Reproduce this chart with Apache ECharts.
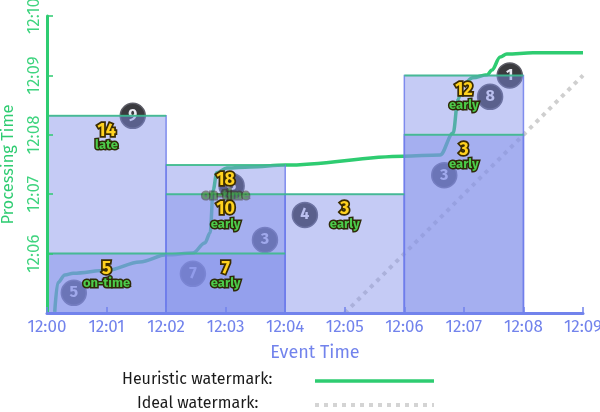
<!DOCTYPE html>
<html>
<head>
<meta charset="utf-8">
<script src="https://cdn.jsdelivr.net/npm/echarts@6/dist/echarts.min.js"></script>
<style>
  html, body { margin: 0; padding: 0; background: #fff; }
  #chart { width: 600px; height: 412px; }
</style>
</head>
<body>
<div id="chart"></div>
<script>
// times are minutes after 12:00
const eventTimeLabels = ['12:00', '12:01', '12:02', '12:03', '12:04', '12:05', '12:06', '12:07', '12:08', '12:09']
const processingTimeLabels = ['12:05', '12:06', '12:07', '12:08', '12:09', '12:10']

// fixed 2 minute windows
const windowStarts = [0, 2, 4, 6]
const windowSize = 2

// one pane per trigger firing
const paneWindow = [0, 0, 1, 1, 1, 2, 3, 3]
const paneTop = [6.0, 8.32, 6.0, 7.0, 7.49, 7.0, 8.0, 9.0]
const paneSum = [5, 14, 7, 10, 18, 3, 3, 12]
const paneTiming = ['on-time', 'late', 'early', 'early', 'on-time', 'early', 'early', 'early']

// input events
const eventX = [0.45, 1.44, 2.45, 3.1, 3.66, 4.33, 6.67, 7.44, 7.77]
const eventY = [5.34, 8.32, 5.66, 7.14, 6.23, 6.65, 7.32, 8.64, 9.0]
const eventScore = [5, 9, 7, 8, 3, 4, 3, 8, 1]

// watermarks
const heuristicX = [0.13, 0.18, 0.30, 0.44, 1.01, 1.56, 2.01, 2.45, 2.65, 2.74, 2.79, 2.85, 3.02, 3.41, 4.0, 5.99, 6.60, 6.82, 6.90, 6.98, 7.15, 7.39, 7.47, 7.61, 7.72, 8.16, 9.0]
const heuristicY = [5.02, 5.51, 5.64, 5.67, 5.72, 5.86, 5.98, 6.01, 6.18, 6.35, 7.07, 7.36, 7.44, 7.46, 7.49, 7.64, 7.66, 8.03, 8.59, 8.84, 8.96, 9.01, 9.09, 9.31, 9.36, 9.38, 9.38]
const idealX = [5, 9]
const idealY = [5, 9]

const FONT = "'Fira Sans', 'Open Sans', sans-serif"
const GREEN = '#2ecc71'
const BLUE = '#7283ec'
const fadedLabel = { 4: 0.45 }

const paneData = paneTop.map((top, i) => {
  const s = windowStarts[paneWindow[i]]
  return [s, s + windowSize, top, paneSum[i], paneTiming[i]]
})

const option = {
  animation: false,
  backgroundColor: '#fff',
  grid: { left: 47, right: 17, top: 16, bottom: 99, containLabel: false, outerBoundsMode: 'none' },
  xAxis: {
    type: 'value',
    min: 0,
    max: 9,
    interval: 1,
    z: 6,
    name: 'Event Time',
    nameLocation: 'middle',
    nameGap: 31,
    nameTextStyle: { color: BLUE, fontSize: 18, fontFamily: FONT },
    axisLine: { lineStyle: { color: BLUE, width: 3 } },
    axisTick: { inside: true, length: 6, lineStyle: { color: BLUE, width: 1.5 } },
    axisLabel: {
      color: BLUE,
      fontSize: 17,
      fontFamily: FONT,
      margin: 6,
      formatter: v => eventTimeLabels[v]
    },
    splitLine: { show: false }
  },
  yAxis: {
    type: 'value',
    min: 5,
    max: 10,
    interval: 1,
    z: 6,
    name: 'Processing Time',
    nameLocation: 'middle',
    nameGap: 30,
    nameRotate: 90,
    nameTextStyle: { color: GREEN, fontSize: 16.5, fontFamily: FONT },
    axisLine: { show: true, lineStyle: { color: GREEN, width: 3 } },
    axisTick: { show: true, inside: true, length: 6, lineStyle: { color: GREEN, width: 1.5 } },
    axisLabel: {
      color: '#3fd47f',
      fontSize: 17,
      fontFamily: FONT,
      rotate: 90,
      margin: 4,
      showMinLabel: false,
      formatter: v => processingTimeLabels[v - 5]
    },
    splitLine: { show: false }
  },
  series: [
    {
      name: 'Ideal watermark',
      type: 'line',
      z: 1,
      symbol: 'none',
      data: idealX.map((x, i) => [x, idealY[i]]),
      lineStyle: { color: '#cfcfcf', width: 4, type: [4, 5], cap: 'butt' }
    },
    {
      name: 'Heuristic watermark',
      type: 'line',
      z: 1,
      symbol: 'none',
      smooth: 0.35,
      smoothMonotone: 'x',
      data: heuristicX.map((x, i) => [x, heuristicY[i]]),
      lineStyle: { color: GREEN, width: 3.5 }
    },
    {
      type: 'scatter',
      z: 2,
      symbolSize: 25,
      data: eventX.map((x, i) => [x, eventY[i], eventScore[i]]),
      itemStyle: { color: '#3a3a3e', borderColor: '#5c5c66', borderWidth: 1.5, opacity: 1 },
      label: {
        show: true,
        position: 'inside',
        formatter: p => p.value[2],
        color: '#eceaf4',
        fontSize: 16,
        fontWeight: 'bold',
        fontFamily: FONT
      }
    },
    {
      // window panes
      type: 'custom',
      z: 3,
      encode: { x: [0, 1], y: 2 },
      data: paneData,
      renderItem: (params, api) => {
        const p0 = api.coord([api.value(0), 5])
        const p1 = api.coord([api.value(1), api.value(2)])
        return {
          type: 'rect',
          shape: { x: p0[0], y: p1[1], width: p1[0] - p0[0], height: p0[1] - p1[1] },
          style: { fill: 'rgba(128,141,233,0.46)', stroke: 'rgba(110,125,235,0.85)', lineWidth: 1.5 }
        }
      }
    },
    {
      // pane tops
      type: 'custom',
      z: 4,
      encode: { x: [0, 1], y: 2 },
      data: paneData,
      renderItem: (params, api) => {
        const a = api.coord([api.value(0), api.value(2)])
        const b = api.coord([api.value(1), api.value(2)])
        return {
          type: 'line',
          shape: { x1: a[0], y1: a[1], x2: b[0], y2: b[1] },
          style: { stroke: 'rgba(46,204,113,0.7)', lineWidth: 2 }
        }
      }
    },
    {
      // pane results
      type: 'custom',
      z: 5,
      encode: { x: [0, 1], y: 2 },
      data: paneData,
      renderItem: (params, api) => {
        const c = api.coord([(api.value(0) + api.value(1)) / 2, api.value(2)])
        const i = params.dataIndex
        return {
          type: 'group',
          children: [{
            type: 'text',
            x: c[0],
            y: c[1] + 15,
            style: {
              text: String(paneSum[i]),
              fill: '#ffd21f',
              stroke: '#3b2c00',
              lineWidth: 3.5,
              font: 'bold 18px ' + FONT,
              align: 'center',
              verticalAlign: 'middle'
            }
          }, {
            type: 'text',
            x: c[0],
            y: c[1] + 30,
            style: {
              text: paneTiming[i],
              fill: '#4ccc4a',
              stroke: '#2e2a08',
              lineWidth: 3,
              font: 'bold 13px ' + FONT,
              align: 'center',
              verticalAlign: 'middle',
              opacity: fadedLabel[i] || 1
            }
          }]
        }
      }
    }
  ],
  graphic: [
    {
      type: 'text',
      left: 122,
      top: 372,
      style: { text: 'Heuristic watermark:', fill: '#1a1a1a', font: '16px ' + FONT }
    },
    {
      type: 'text',
      left: 137,
      top: 396,
      style: { text: 'Ideal watermark:', fill: '#1a1a1a', font: '16px ' + FONT }
    },
    {
      type: 'line',
      shape: { x1: 315, y1: 381, x2: 434, y2: 381 },
      style: { stroke: GREEN, lineWidth: 3.5 }
    },
    {
      type: 'line',
      shape: { x1: 315, y1: 405, x2: 434, y2: 405 },
      style: { stroke: '#d4d4d4', lineWidth: 4, lineDash: [4, 5] }
    }
  ]
}

const myChart = echarts.init(document.getElementById('chart'))
myChart.setOption(option)
</script>
</body>
</html>
